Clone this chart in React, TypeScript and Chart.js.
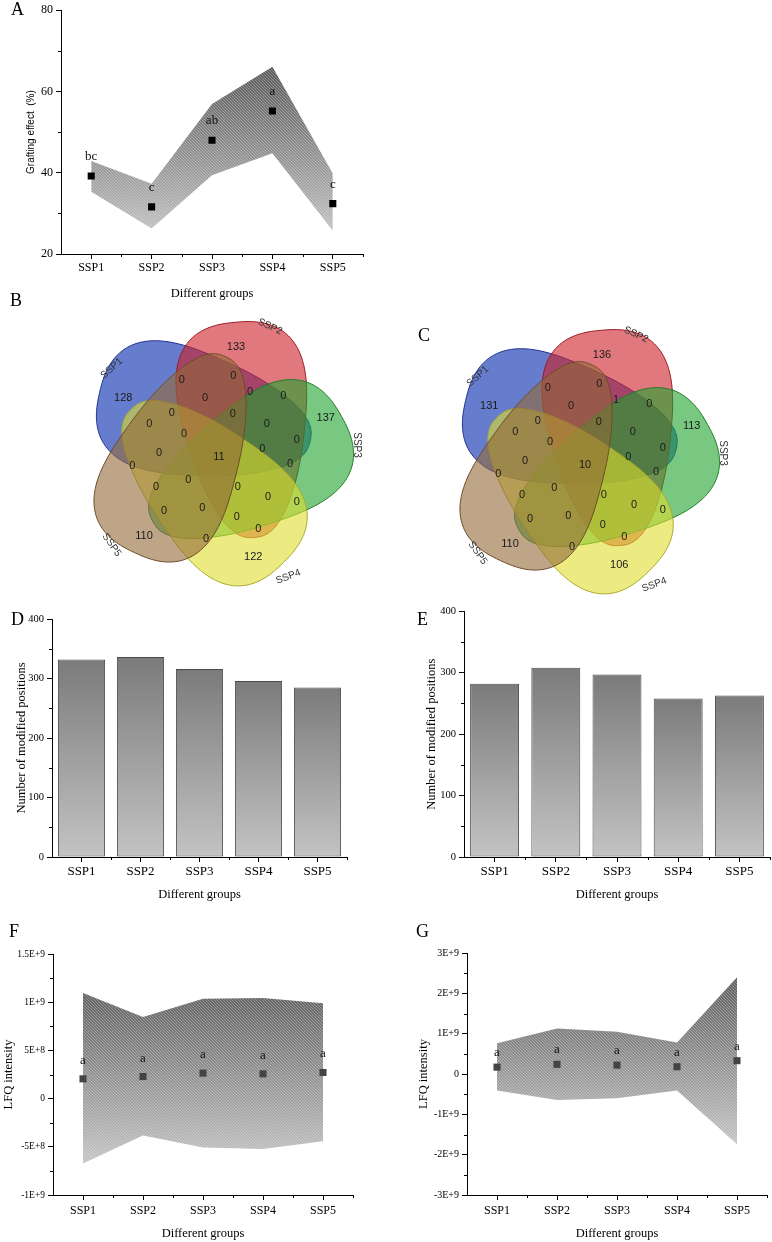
import React, { useEffect, useRef } from 'react';
import { Chart, registerables } from 'chart.js';

Chart.register(...registerables);

const SERIF = '"Liberation Serif", "Times New Roman", serif';
const SANS = '"Liberation Sans", Arial, sans-serif';

// ---------------- data ----------------
const GROUPS = ['SSP1', 'SSP2', 'SSP3', 'SSP4', 'SSP5'];
const X_TITLE = 'Different groups';
const A_Y_TITLE = 'Grafting effect  (%)';
const COUNT_Y_TITLE = 'Number of modified positions';
const LFQ_Y_TITLE = 'LFQ intensity';

const A_MEAN = [39.2, 31.6, 48.0, 55.2, 32.4];
const A_UPPER = [42.9, 37.3, 56.9, 66.1, 39.8];
const A_LOWER = [35.3, 26.3, 39.4, 44.8, 25.7];
const A_LETTERS = ['bc', 'c', 'ab', 'a', 'c'];

const D_COUNTS = [332, 336, 316, 296, 285];
const E_COUNTS = [282, 308, 297, 258, 263];

const F_MEAN = [2.05e8, 2.29e8, 2.64e8, 2.57e8, 2.71e8];
const F_UPPER = [1.095e9, 8.47e8, 1.036e9, 1.043e9, 9.9e8];
const F_LOWER = [-6.74e8, -3.83e8, -5.08e8, -5.22e8, -4.43e8];
const F_LETTERS = ['a', 'a', 'a', 'a', 'a'];

const G_MEAN = [1.7e8, 2.4e8, 2.2e8, 1.8e8, 3.3e8];
const G_UPPER = [7.6e8, 1.13e9, 1.05e9, 7.8e8, 2.4e9];
const G_LOWER = [-4.1e8, -6.45e8, -6.0e8, -4.1e8, -1.74e9];
const G_LETTERS = ['a', 'a', 'a', 'a', 'a'];

// Venn region counts: SSP1..SSP5 unique, all-five core, then the 25 partial overlaps
const VENN_B_COUNTS = [128, 133, 137, 122, 110, 11,
  0, 0, 0, 0, 0, 0, 0, 0, 0, 0, 0, 0, 0, 0, 0, 0, 0, 0, 0, 0, 0, 0, 0, 0, 0];
const VENN_C_COUNTS = [131, 136, 113, 106, 110, 10,
  0, 0, 1, 0, 0, 0, 0, 0, 0, 0, 0, 0, 0, 0, 0, 0, 0, 0, 0, 0, 0, 0, 0, 0, 0];

// ---------------- layout (positions / styles) ----------------
const VENN_REGION_POS: [number, number][] = [
  [-92.7, -52.7], [20, -104.3], [109.7, -32.7], [37.3, 105.7], [-72, 85], [3, 5.7],
  [-34.3, -71], [17.3, -75], [34, -59.3], [67.3, -55], [-11, -52.7],
  [16.7, -37], [50.7, -27], [80.7, -11], [46.3, -2], [74, 13],
  [80.7, 51], [52, 45.7], [21.7, 36.3], [20.7, 65.7], [42.3, 78.3],
  [-10, 87.7], [-13.7, 57.3], [-27.7, 29], [-52, 59.7], [-60, 35.7],
  [-83.7, 14.7], [-57, 2.3], [-32, -17], [-44.3, -37.7], [-66.7, -27],
];
const VENN_NAME_POS: [number, number, number][] = [
  [-104.3, -82.7, -42], [54, -124.3, 25], [140.7, -6, 90], [72.3, 125.7, -20], [-104.3, 94, 55],
];
const VENN_FILL = ['rgba(0,38,172,0.6)', 'rgba(205,30,38,0.6)', 'rgba(30,163,47,0.6)', 'rgba(222,222,47,0.6)', 'rgba(147,105,55,0.6)'];
const VENN_STROKE = ['#1f2f8f', '#9a1a22', '#1f7a2a', '#a8a828', '#6b4a26'];
const VENN_ANGLE_ADJ = [0, 0, -6, -4, -6];
const VENN_SHAPE = { theta0: -153, step: 72, dist: 36, centerRot: 45, axisRot: 166, a: 108, b: 60, taper: 0.33, power: 2.5 };

type Geo = { left: number; top: number; width: number; height: number; l: number; t: number; r: number; b: number };
const GEO_A: Geo = { left: 0, top: 0, width: 400, height: 302, l: 61, t: 10, r: 363, b: 254 };
const GEO_D: Geo = { left: 0, top: 602, width: 390, height: 305, l: 52, t: 619, r: 347, b: 857 };
const GEO_E: Geo = { left: 392, top: 602, width: 380, height: 305, l: 464, t: 611, r: 770, b: 857 };
const GEO_F: Geo = { left: 0, top: 915, width: 390, height: 327, l: 53, t: 954, r: 353, b: 1195 };
const GEO_G: Geo = { left: 392, top: 915, width: 380, height: 327, l: 467, t: 953, r: 768, b: 1195 };
const GEO_B = { left: 40, top: 300, width: 360, height: 300, cx: 176, cy: 151 };
const GEO_C = { left: 406, top: 308, width: 360, height: 300, cx: 176, cy: 151 };

const PANEL_LETTERS: [string, number, number][] = [
  ['A', 11, 0], ['B', 10, 291], ['C', 418, 326], ['D', 11, 610], ['E', 417, 610], ['F', 9, 922], ['G', 416, 922],
];

type AxisStyle = { yTick: number; xTick: number; xTickPad: number; title: number; yTitleFamily: string; yTitleSize: number; yTitlePad: number; xTitlePad: number };
const STYLE_A: AxisStyle = { yTick: 12, xTick: 12, xTickPad: 2, title: 12.5, yTitleFamily: SANS, yTitleSize: 10, yTitlePad: 25.5, xTitlePad: 0.5 };
const STYLE_D: AxisStyle = { yTick: 10.5, xTick: 13, xTickPad: 2, title: 12.5, yTitleFamily: SERIF, yTitleSize: 12.5, yTitlePad: 14.2, xTitlePad: 4.5 };
const STYLE_E: AxisStyle = { ...STYLE_D, yTitlePad: 32.2 };
const STYLE_F: AxisStyle = { yTick: 9.5, xTick: 12, xTickPad: 3.8, title: 12.5, yTitleFamily: SERIF, yTitleSize: 12.5, yTitlePad: 0.8, xTitlePad: 1.2 };
const STYLE_G: AxisStyle = { ...STYLE_F, yTick: 10, yTitlePad: 23.8 };

// ---------------- helpers ----------------
function sci(v: number): string {
  if (v === 0) return '0';
  const e = Math.floor(Math.log10(Math.abs(v)) + 1e-9);
  const m = Math.round((v / Math.pow(10, e)) * 100) / 100;
  return `${m}E+${e}`;
}

const minorTicks = {
  id: 'minorTicks',
  afterDraw(chart: any) {
    const { ctx, chartArea } = chart;
    const xs = chart.scales.x, ys = chart.scales.y;
    ctx.save();
    ctx.strokeStyle = '#000';
    ctx.lineWidth = 1;
    ctx.beginPath();
    const vals = ys.ticks.map((t: any) => t.value);
    for (let i = 0; i < vals.length - 1; i++) {
      const py = Math.round(ys.getPixelForValue((vals[i] + vals[i + 1]) / 2)) + 0.5;
      ctx.moveTo(chartArea.left - 3, py);
      ctx.lineTo(chartArea.left, py);
    }
    const p0 = xs.getPixelForValue(0), p1 = xs.getPixelForValue(1);
    const step = p1 - p0;
    for (let i = 0; i < xs.ticks.length; i++) {
      const px = Math.round(p0 + step * i + step / 2) + 0.5;
      ctx.moveTo(px, chartArea.bottom);
      ctx.lineTo(px, chartArea.bottom + 3);
    }
    ctx.stroke();
    ctx.restore();
  },
};

function makeLettersPlugin(labels: string[], offset: number) {
  return {
    id: 'letters',
    afterDatasetsDraw(chart: any) {
      const { ctx } = chart;
      const meta = chart.getDatasetMeta(2);
      ctx.save();
      ctx.font = `13px ${SERIF}`;
      ctx.fillStyle = '#111';
      ctx.textAlign = 'center';
      ctx.textBaseline = 'alphabetic';
      meta.data.forEach((pt: any, i: number) => ctx.fillText(labels[i], pt.x, pt.y - offset));
      ctx.restore();
    },
  };
}

const hatchCache = new WeakMap<any, { key: string; pat: any }>();
function hatch(chart: any, upper: number[], lower: number[], shade: [string, string]) {
  if (!chart.chartArea || !chart.scales || !chart.scales.y) return 'rgba(128,128,128,0.8)';
  const ys = chart.scales.y;
  const top = ys.getPixelForValue(Math.max(...upper));
  const bot = ys.getPixelForValue(Math.min(...lower));
  const key = `${chart.width}x${chart.height}:${top}:${bot}`;
  const c = hatchCache.get(chart);
  if (c && c.key === key) return c.pat;
  const off = document.createElement('canvas');
  off.width = chart.width;
  off.height = chart.height;
  const g = off.getContext('2d')!;
  const grd = g.createLinearGradient(0, top, 0, bot);
  grd.addColorStop(0, shade[0]);
  grd.addColorStop(1, shade[1]);
  g.fillStyle = grd;
  g.fillRect(0, 0, off.width, off.height);
  g.strokeStyle = 'rgba(255,255,255,0.3)';
  g.lineWidth = 1;
  const H = off.height;
  for (let x0 = -H; x0 < off.width; x0 += 3) {
    g.beginPath();
    g.moveTo(x0, 0);
    g.lineTo(x0 + H, H);
    g.stroke();
  }
  const pat = chart.ctx.createPattern(off, 'no-repeat');
  hatchCache.set(chart, { key, pat });
  return pat;
}

function xyOptions(geo: Geo, st: AxisStyle, y: { min: number; max: number; step: number; title: string; fmt?: (v: number) => string }) {
  const yW = geo.l - geo.left;
  const xH = geo.top + geo.height - geo.b;
  return {
    animation: false,
    responsive: false,
    maintainAspectRatio: false,
    events: [],
    layout: { padding: { left: 0, right: geo.left + geo.width - geo.r, top: geo.t - geo.top, bottom: 0 } },
    plugins: {
      legend: { display: false },
      tooltip: { enabled: false },
      title: { display: false },
      filler: { drawTime: 'beforeDatasetsDraw' },
    },
    scales: {
      x: {
        type: 'category',
        offset: true,
        grid: { offset: false, drawOnChartArea: false, drawTicks: true, tickLength: 5, color: '#000', lineWidth: 1 },
        border: { display: true, color: '#000', width: 1 },
        ticks: { color: '#000', font: { family: SERIF, size: st.xTick }, padding: st.xTickPad, maxRotation: 0, autoSkip: false },
        title: { display: true, text: X_TITLE, color: '#000', font: { family: SERIF, size: st.title }, padding: { top: 0, bottom: st.xTitlePad } },
        afterFit: (s: any) => { s.height = xH; },
      },
      y: {
        type: 'linear',
        min: y.min,
        max: y.max,
        grid: { drawOnChartArea: false, drawTicks: true, tickLength: 5, color: '#000', lineWidth: 1 },
        border: { display: true, color: '#000', width: 1 },
        ticks: {
          stepSize: y.step,
          color: '#000',
          font: { family: SERIF, size: st.yTick },
          padding: 3,
          callback: (v: any) => (y.fmt ? y.fmt(Number(v)) : String(v)),
        },
        title: { display: true, text: y.title, color: '#000', font: { family: st.yTitleFamily, size: st.yTitleSize }, padding: { top: st.yTitlePad, bottom: 0 } },
        afterFit: (s: any) => { s.width = yW; },
      },
    },
  };
}

function bandConfig(geo: Geo, st: AxisStyle, yAxis: any, mean: number[], upper: number[], lower: number[],
  letters: string[], letterOffset: number, pointColor: string, shade: [string, string]): any {
  return {
    type: 'line',
    data: {
      labels: GROUPS,
      datasets: [
        { data: upper, fill: '+1', borderColor: 'rgba(0,0,0,0)', borderWidth: 0, pointRadius: 0, tension: 0,
          backgroundColor: (c: any) => hatch(c.chart, upper, lower, shade) },
        { data: lower, fill: false, borderColor: 'rgba(0,0,0,0)', borderWidth: 0, pointRadius: 0, tension: 0 },
        { data: mean, showLine: false, pointStyle: 'rect', pointRadius: 5, backgroundColor: pointColor, borderColor: pointColor, borderWidth: 0 },
      ],
    },
    options: xyOptions(geo, st, yAxis),
    plugins: [minorTicks, makeLettersPlugin(letters, letterOffset)],
  };
}

function barConfig(geo: Geo, st: AxisStyle, counts: number[]): any {
  return {
    type: 'bar',
    data: {
      labels: GROUPS,
      datasets: [{
        data: counts,
        categoryPercentage: 1,
        barPercentage: 0.8,
        borderColor: '#4a4a4a',
        borderWidth: 1,
        borderSkipped: false,
        backgroundColor: (c: any) => {
          const ch = c.chart;
          if (!ch.chartArea || c.raw == null) return '#999';
          const ys = ch.scales.y;
          const top = ys.getPixelForValue(c.raw);
          const base = ys.getPixelForValue(0);
          const g = ch.ctx.createLinearGradient(0, top, 0, base);
          g.addColorStop(0, '#7b7b7b');
          g.addColorStop(1, '#c3c3c3');
          return g;
        },
      }],
    },
    options: xyOptions(geo, st, { min: 0, max: 400, step: 100, title: COUNT_Y_TITLE }),
    plugins: [minorTicks],
  };
}

function makeVennPlugin(counts: number[]) {
  const rad = Math.PI / 180;
  return {
    id: 'venn',
    beforeDatasetsDraw(chart: any) {
      const { ctx } = chart;
      const xs = chart.scales.x, ys = chart.scales.y;
      const S = VENN_SHAPE;
      ctx.save();
      for (let i = 0; i < GROUPS.length; i++) {
        const th = (S.theta0 + S.step * i + VENN_ANGLE_ADJ[i]) * rad;
        const cx = S.dist * Math.cos(th + S.centerRot * rad);
        const cy = S.dist * Math.sin(th + S.centerRot * rad);
        const al = th + S.axisRot * rad;
        const ca = Math.cos(al), sa = Math.sin(al);
        ctx.beginPath();
        const N = 240;
        for (let s = 0; s < N; s++) {
          const ph = (s / N) * 2 * Math.PI;
          const c = Math.cos(ph), sn = Math.sin(ph);
          const u = S.a * Math.sign(c) * Math.pow(Math.abs(c), 2 / S.power);
          const v = S.b * Math.sign(sn) * Math.pow(Math.abs(sn), 2 / S.power) * (1 - (S.taper * u) / S.a);
          const X = cx + u * ca - v * sa;
          const Y = cy + u * sa + v * ca;
          const px = xs.getPixelForValue(X), py = ys.getPixelForValue(Y);
          if (s === 0) ctx.moveTo(px, py); else ctx.lineTo(px, py);
        }
        ctx.closePath();
        ctx.fillStyle = VENN_FILL[i];
        ctx.fill();
        ctx.lineWidth = 1;
        ctx.strokeStyle = VENN_STROKE[i];
        ctx.stroke();
      }
      ctx.restore();
    },
    afterDatasetsDraw(chart: any) {
      const { ctx } = chart;
      const xs = chart.scales.x, ys = chart.scales.y;
      const meta = chart.getDatasetMeta(0);
      ctx.save();
      ctx.textAlign = 'center';
      ctx.textBaseline = 'middle';
      ctx.font = `11px ${SANS}`;
      ctx.fillStyle = '#1a1a1a';
      meta.data.forEach((pt: any, i: number) => ctx.fillText(String(counts[i]), pt.x, pt.y));
      ctx.font = `10px ${SANS}`;
      ctx.fillStyle = '#333';
      VENN_NAME_POS.forEach(([dx, dy, rot], i) => {
        ctx.save();
        ctx.translate(xs.getPixelForValue(dx), ys.getPixelForValue(dy));
        ctx.rotate(rot * rad);
        ctx.fillText(GROUPS[i], 0, 0);
        ctx.restore();
      });
      ctx.restore();
    },
  };
}

function vennConfig(geo: typeof GEO_B, counts: number[]): any {
  return {
    type: 'scatter',
    data: { datasets: [{ data: VENN_REGION_POS.map(([x, y]) => ({ x, y })), pointRadius: 0 }] },
    options: {
      animation: false,
      responsive: false,
      maintainAspectRatio: false,
      events: [],
      layout: { padding: 0 },
      plugins: { legend: { display: false }, tooltip: { enabled: false } },
      scales: {
        x: { type: 'linear', min: -geo.cx, max: geo.width - geo.cx, display: false },
        y: { type: 'linear', min: -geo.cy, max: geo.height - geo.cy, reverse: true, display: false },
      },
    },
    plugins: [makeVennPlugin(counts)],
  };
}

// ---------------- components ----------------
function ChartBox(props: { make: () => any; left: number; top: number; width: number; height: number }) {
  const ref = useRef<HTMLCanvasElement | null>(null);
  useEffect(() => {
    if (!ref.current) return;
    const chart = new Chart(ref.current, props.make());
    return () => chart.destroy();
  }, []);
  const { left, top, width, height } = props;
  return (
    <canvas
      ref={ref}
      width={width}
      height={height}
      style={{ position: 'absolute', left, top, width, height }}
    />
  );
}

export default function App() {
  const box = (g: { left: number; top: number; width: number; height: number }) => ({ left: g.left, top: g.top, width: g.width, height: g.height });
  return (
    <div style={{ position: 'absolute', left: 0, top: 0, width: 772, height: 1242, background: '#fff', overflow: 'hidden' }}>
      <ChartBox {...box(GEO_A)} make={() => bandConfig(GEO_A, STYLE_A, { min: 20, max: 80, step: 20, title: A_Y_TITLE },
        A_MEAN, A_UPPER, A_LOWER, A_LETTERS, 16, '#000', ['#5a5a5a', '#c0c0c0'])} />
      <ChartBox {...box(GEO_B)} make={() => vennConfig(GEO_B, VENN_B_COUNTS)} />
      <ChartBox {...box(GEO_C)} make={() => vennConfig(GEO_C, VENN_C_COUNTS)} />
      <ChartBox {...box(GEO_D)} make={() => barConfig(GEO_D, STYLE_D, D_COUNTS)} />
      <ChartBox {...box(GEO_E)} make={() => barConfig(GEO_E, STYLE_E, E_COUNTS)} />
      <ChartBox {...box(GEO_F)} make={() => bandConfig(GEO_F, STYLE_F, { min: -1e9, max: 1.5e9, step: 5e8, title: LFQ_Y_TITLE, fmt: sci },
        F_MEAN, F_UPPER, F_LOWER, F_LETTERS, 15, '#444', ['#626262', '#c4c4c4'])} />
      <ChartBox {...box(GEO_G)} make={() => bandConfig(GEO_G, STYLE_G, { min: -3e9, max: 3e9, step: 1e9, title: LFQ_Y_TITLE, fmt: sci },
        G_MEAN, G_UPPER, G_LOWER, G_LETTERS, 11, '#444', ['#5e5e5e', '#c4c4c4'])} />
      {PANEL_LETTERS.map(([t, l, tp]) => (
        <div key={t} style={{ position: 'absolute', left: l, top: tp, font: `18px ${SERIF}`, lineHeight: '18px', color: '#000' }}>{t}</div>
      ))}
    </div>
  );
}
